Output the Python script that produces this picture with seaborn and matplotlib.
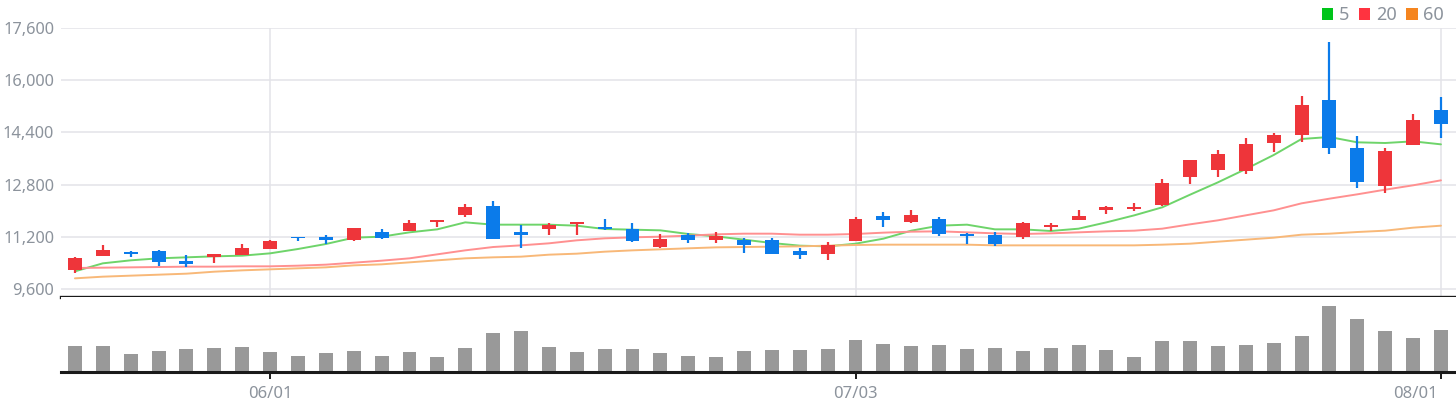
import numpy as np
import pandas as pd
import matplotlib
matplotlib.use("Agg")
import matplotlib.pyplot as plt
from matplotlib.patches import Patch
import matplotlib.transforms as mtransforms
import seaborn as sns

# ---------------- data ----------------
dates = ["05/22", "05/23", "05/24", "05/25", "05/26", "05/30", "05/31",
         "06/01", "06/02", "06/05", "06/07", "06/08", "06/09", "06/12", "06/13", "06/14",
         "06/15", "06/16", "06/19", "06/20", "06/21", "06/22", "06/23", "06/26", "06/27",
         "06/28", "06/29", "06/30",
         "07/03", "07/04", "07/05", "07/06", "07/07", "07/10", "07/11", "07/12", "07/13",
         "07/14", "07/17", "07/18", "07/19", "07/20", "07/21", "07/24", "07/25", "07/26",
         "07/27", "07/28", "07/31", "08/01"]

open_ = [10170, 10600, 10740, 10770, 10470, 10570, 10630, 10820, 11200, 11200,
         11110, 11360, 11390, 11660, 11880, 12150, 11360, 11450, 11600, 11510,
         11450, 10900, 11260, 11110, 11110, 11110, 10770, 10680, 11080, 11850,
         11660, 11760, 11300, 11260, 11200, 11510, 11700, 12030, 12060, 12190,
         13040, 13260, 13230, 14080, 14330, 15400, 13930, 12770, 14020, 15100]
high = [10590, 10960, 10770, 10810, 10650, 10680, 10990, 11110, 11200, 11260,
        11480, 11450, 11720, 11720, 12210, 12310, 11570, 11630, 11660, 11760,
        11630, 11300, 11330, 11360, 11170, 11170, 10870, 11050, 11820, 11970,
        12030, 11820, 11330, 11360, 11660, 11630, 12030, 12150, 12250, 12980,
        13560, 13870, 14240, 14390, 15530, 17180, 14300, 13930, 14970, 15470]
low = [10090, 10600, 10570, 10320, 10260, 10410, 10630, 10820, 11060, 10990,
       11080, 11140, 11390, 11510, 11820, 11140, 10870, 11260, 11260, 11420,
       11050, 10870, 11020, 11020, 10710, 10680, 10530, 10500, 11080, 11510,
       11630, 11230, 10990, 10930, 11140, 11390, 11700, 11910, 12000, 12150,
       12830, 13040, 13130, 13810, 14120, 13750, 12710, 12550, 14020, 14240]
close = [10560, 10810, 10680, 10420, 10360, 10680, 10870, 11080, 11150, 11110,
         11480, 11170, 11630, 11720, 12120, 11140, 11260, 11570, 11660, 11440,
         11080, 11140, 11110, 11230, 10960, 10680, 10650, 10960, 11760, 11720,
         11880, 11300, 11230, 10990, 11630, 11570, 11850, 12120, 12120, 12860,
         13560, 13750, 14050, 14330, 15250, 13930, 12890, 13840, 14790, 14670]

ma5 = [10141, 10387, 10479, 10540, 10571, 10601, 10622, 10693, 10826, 10979,
       11173, 11204, 11337, 11429, 11643, 11572, 11572, 11572, 11541, 11439,
       11419, 11398, 11286, 11214, 11112, 11010, 10928, 10908, 10989, 11143,
       11388, 11541, 11572, 11429, 11429, 11378, 11449, 11643, 11858, 12103,
       12491, 12869, 13278, 13707, 14198, 14259, 14096, 14075, 14126, 14034]
ma20 = [10244, 10254, 10264, 10274, 10285, 10285, 10295, 10295, 10315, 10346,
        10407, 10468, 10540, 10663, 10785, 10887, 10938, 11000, 11092, 11153,
        11184, 11204, 11235, 11276, 11296, 11296, 11265, 11265, 11286, 11327,
        11357, 11368, 11337, 11306, 11286, 11306, 11337, 11368, 11388, 11449,
        11582, 11705, 11858, 12011, 12226, 12369, 12502, 12645, 12778, 12931]
ma60 = [9927, 9978, 10009, 10039, 10070, 10131, 10172, 10203, 10234, 10264,
        10325, 10356, 10417, 10479, 10540, 10571, 10591, 10652, 10683, 10744,
        10785, 10816, 10847, 10877, 10887, 10898, 10908, 10928, 10949, 10959,
        10959, 10959, 10959, 10938, 10938, 10938, 10938, 10938, 10938, 10959,
        10989, 11051, 11112, 11173, 11265, 11296, 11347, 11388, 11480, 11541]

volume = [78, 78, 54, 63, 69, 72, 75, 60, 48, 57, 63, 48, 60, 45, 72, 117, 123,
          75, 60, 69, 69, 57, 48, 45, 63, 66, 66, 69, 96, 84, 78, 81, 69, 72,
          63, 72, 81, 66, 45, 93, 93, 78, 81, 87, 108, 196, 159, 123, 102, 126]
volume = [v * 1000 for v in volume]

price_ticks = [9600, 11200, 12800, 14400, 16000, 17600]
date_ticks = ["06/01", "07/03", "08/01"]
ma_labels = ["5", "20", "60"]

# ---------------- style ----------------
sns.set_theme(style="white")
plt.rcParams["font.family"] = ["Noto Sans", "DejaVu Sans"]

UP = "#EE353A"
DOWN = "#0B7BEA"
GRID = "#E3E3E8"
LABEL = "#8C939C"
MA_COLORS = ["#6ED46A", "#FF9090", "#F8B878"]
LEG_COLORS = ["#00C41A", "#FF3340", "#F5851F"]

df = pd.DataFrame({"idx": np.arange(len(dates)), "date": dates, "open": open_,
                   "high": high, "low": low, "close": close,
                   "ma5": ma5, "ma20": ma20, "ma60": ma60, "volume": volume})
df["up"] = df["close"] >= df["open"]
df["color"] = np.where(df["up"], UP, DOWN)

fig = plt.figure(figsize=(14.56, 4.0), dpi=100)
L = 61 / 1456
W = 1 - L
ax = fig.add_axes([L, 103 / 400, W, 269 / 400])
axv = fig.add_axes([L, 28 / 400, W, 75 / 400])

xlim = (-0.5, 49.54)

# moving averages
for col, c in zip(["ma5", "ma20", "ma60"], MA_COLORS):
    sns.lineplot(data=df, x="idx", y=col, ax=ax, color=c, lw=1.4, zorder=2)

# candles: wicks + bodies
ax.vlines(df["idx"], df["low"], df["high"], colors=df["color"], lw=1.6, zorder=3)
body_bottom = np.minimum(df["open"], df["close"])
body_h = np.maximum(np.abs(df["close"] - df["open"]), 55)
ax.bar(df["idx"], body_h, bottom=body_bottom, width=0.5, color=df["color"],
       linewidth=0, zorder=4)

ax.set_xlim(*xlim)
ax.set_ylim(9355, 17600)
ax.set_yticks(price_ticks)
ax.set_yticklabels([f"{t:,}" for t in price_ticks])
ax.set_xticks([dates.index(d) for d in date_ticks])
ax.tick_params(axis="x", length=0, labelbottom=False)
ax.tick_params(axis="y", length=0, pad=5, labelsize=11.8, labelcolor=LABEL)
ax.grid(True, axis="both", color=GRID, lw=1.1)
ax.set_axisbelow(True)
ax.set_xlabel("")
ax.set_ylabel("")
for s in ["top", "right", "left"]:
    ax.spines[s].set_visible(False)
ax.spines["bottom"].set_color("#1A1A1A")
ax.spines["bottom"].set_linewidth(2.4)

# volume
sns.barplot(data=df, x="idx", y="volume", ax=axv, native_scale=True,
            color="#999999", width=0.5, saturation=1, linewidth=0, zorder=2)
axv.set_xlim(*xlim)
axv.set_ylim(0, 223000)
axv.set_yticks([])
axv.set_xticks([dates.index(d) for d in date_ticks])
axv.set_xticklabels(date_ticks)
axv.tick_params(axis="x", length=5, width=1.4, color="#1A1A1A", pad=5,
                labelsize=12, labelcolor=LABEL, bottom=True)
axv.grid(False)
axv.set_xlabel("")
axv.set_ylabel("")
for s in ["top", "right", "left"]:
    axv.spines[s].set_visible(False)
axv.spines["bottom"].set_color("#1A1A1A")
axv.spines["bottom"].set_linewidth(2.2)

# last date label sits left of its tick so that it stays inside the figure
last_lbl = axv.get_xticklabels()[-1]
last_lbl.set_horizontalalignment("right")
last_lbl.set_transform(last_lbl.get_transform() +
                       mtransforms.ScaledTranslation(-3 / 100, 0, fig.dpi_scale_trans))

# legend
handles = [Patch(facecolor=c, edgecolor="none", label=l) for c, l in zip(LEG_COLORS, ma_labels)]
leg = fig.legend(handles=handles, loc="upper right", bbox_to_anchor=(0.999, 1.012),
                 ncol=3, frameon=False, fontsize=13, handlelength=0.62,
                 handleheight=0.62, handletextpad=0.3, columnspacing=0.55,
                 borderaxespad=0.2)
for t in leg.get_texts():
    t.set_color(LABEL)

fig.savefig("out.png", dpi=100)
